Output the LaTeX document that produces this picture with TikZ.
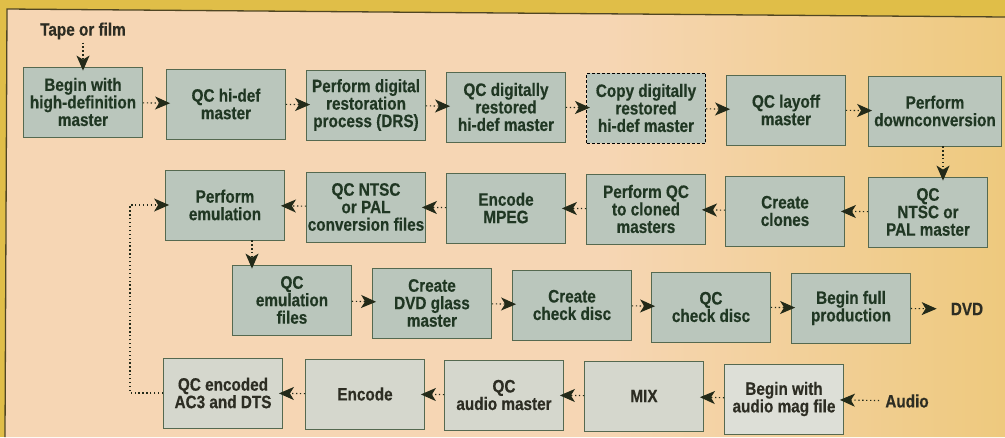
\documentclass[tikz,border=0pt]{standalone}
\usepackage{fontspec}
\setmainfont{Liberation Sans}[FakeStretch=0.85,BoldFeatures={FakeBold=0.4}]
\usetikzlibrary{arrows.meta}
\definecolor{outery}{RGB}{224,190,72}
\definecolor{peach}{RGB}{246,214,180}
\definecolor{gold}{RGB}{236,198,112}
\definecolor{frameline}{RGB}{80,70,35}
\definecolor{boxfill}{RGB}{186,198,188}
\definecolor{boxfilllight}{RGB}{213,215,205}
\definecolor{boxline}{RGB}{85,105,80}
\definecolor{txt}{RGB}{32,55,35}
\definecolor{txtdark}{RGB}{45,45,35}
\definecolor{arrowc}{RGB}{35,42,25}
\pgfdeclarehorizontalshading{panelshade}{100bp}{color(0bp)=(peach); color(55bp)=(peach); color(80bp)=(gold); color(100bp)=(gold)}
\tikzset{
  box/.style={draw=boxline, line width=0.8pt, fill=boxfill, text=txt,
    minimum width=119pt, minimum height=70pt, align=center, inner sep=0pt,
    font=\fontsize{18}{17.5}\selectfont\bfseries},
  lightbox/.style={box, fill=boxfilllight, text=txtdark},
  label/.style={text=txtdark, inner sep=3pt, font=\fontsize{18}{17.5}\selectfont\bfseries},
  flow/.style={draw=arrowc, line width=1.1pt, dash pattern=on 1.3pt off 2.6pt,
    shorten >=-4pt, -{Stealth[length=15pt,width=13pt,inset=4pt]}},
  frame/.style={draw=frameline, line width=1.3pt}
}
\begin{document}
\begin{tikzpicture}[x=1pt,y=-1pt]
\useasboundingbox (0,0) rectangle (1005,437);
\fill[outery] (0,0) rectangle (1005,437);
\shade[shading=panelshade] (7,9) -- (1005,17) -- (1005,437) -- (5,437) -- cycle;
\draw[frame] (5,437) -- (7,9) -- (1005,17);

% row 1
\node[box] (b1) at (83,102) {Begin with\\high-definition\\master};
\node[box] (b2) at (226,104) {QC hi-def\\master};
\node[box] (b3) at (366,105) {Perform digital\\restoration\\process (DRS)};
\node[box] (b4) at (506,107) {QC digitally\\restored\\hi-def master};
\node[box, draw=black, densely dashed, line width=1pt] (b5) at (646,108) {Copy digitally\\restored\\hi-def master};
\node[box] (b6) at (786,110) {QC layoff\\master};
\node[box, minimum width=133pt] (b7) at (935,111) {Perform\\downconversion};

% row 2
\node[box] (r2a) at (225,205) {Perform\\emulation};
\node[box] (r2b) at (366,207) {QC NTSC\\or PAL\\conversion files};
\node[box] (r2c) at (506,208) {Encode\\MPEG};
\node[box] (r2d) at (646,209) {Perform QC\\to cloned\\masters};
\node[box] (r2e) at (785,211) {Create\\clones};
\node[box] (r2f) at (928,212) {QC\\NTSC or\\PAL master};

% row 3
\node[box] (r3a) at (292,300) {QC\\emulation\\files};
\node[box] (r3b) at (432,303) {Create\\DVD glass\\master};
\node[box] (r3c) at (572,305) {Create\\check disc};
\node[box] (r3d) at (711,307) {QC\\check disc};
\node[box] (r3e) at (851,308) {Begin full\\production};
\node[label, inner xsep=18pt] (dvd) at (967,309) {DVD};

% row 4
\node[lightbox] (r4a) at (223,393) {QC encoded\\AC3 and DTS};
\node[lightbox] (r4b) at (365,394) {Encode};
\node[lightbox] (r4c) at (504,395) {QC\\audio master};
\node[lightbox] (r4d) at (644,396) {MIX};
\node[lightbox, fill=boxfilllight!80!white] (r4e) at (784,399) {Begin with\\audio mag file};
\node[label, inner xsep=6pt] (audio) at (907,401) {Audio};

\node[label] (tape) at (83,31) {Tape or film};

% connectors
\draw[flow] (tape) -- (b1);
\draw[flow] (b1) -- (b2);
\draw[flow] (b2) -- (b3);
\draw[flow] (b3) -- (b4);
\draw[flow] (b4) -- (b5);
\draw[flow] (b5) -- (b6);
\draw[flow] (b6) -- (b7);
\draw[flow] ([xshift=8pt]b7.south) -- ([xshift=8pt]b7.south |- r2f.north);
\draw[flow] (r2f) -- (r2e);
\draw[flow] (r2e) -- (r2d);
\draw[flow] (r2d) -- (r2c);
\draw[flow] (r2c) -- (r2b);
\draw[flow] (r2b) -- (r2a);
\draw[flow] ([xshift=27pt]r2a.south) -- ([xshift=27pt]r2a.south |- r3a.north);
\draw[flow] (r3a) -- (r3b);
\draw[flow] (r3b) -- (r3c);
\draw[flow] (r3c) -- (r3d);
\draw[flow] (r3d) -- (r3e);
\draw[flow] (r3e) -- (dvd);
\draw[flow] (audio) -- (r4e);
\draw[flow] (r4e) -- (r4d);
\draw[flow] (r4d) -- (r4c);
\draw[flow] (r4c) -- (r4b);
\draw[flow] (r4b) -- (r4a);
\coordinate (loopx) at (130,0);
\draw[flow] (r4a.west) -- (r4a.west -| loopx) |- (r2a.west);
\end{tikzpicture}
\end{document}
